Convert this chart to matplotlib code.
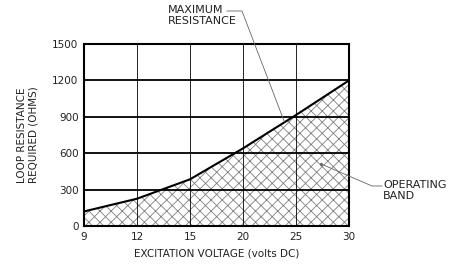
import numpy as np
from matplotlib import pyplot as plt

plt.rcParams['font.family'] = ['DejaVu Sans']
plt.rcParams['hatch.linewidth'] = 0.6
plt.rcParams['hatch.color'] = '#808080'

volts = ['9', '12', '15', '20', '25', '30']
resistance = [120, 225, 385, 640, 915, 1200]
yticks = [0, 300, 600, 900, 1200, 1500]

fig = plt.figure(figsize=(4.52, 2.64), dpi=100)
ax = fig.add_axes([0.186, 0.144, 0.586, 0.689])

x = np.arange(len(volts))
ax.fill_between(x, resistance, 0, facecolor='none', hatch='xxx',
                edgecolor='#808080', linewidth=0)
ax.plot(x, resistance, color='black', lw=1.5, zorder=3)

for yv in yticks[1:-1]:
    ax.axhline(yv, color='black', lw=1.3, zorder=2)
for xv in x[1:-1]:
    ax.axvline(xv, color='black', lw=0.6, zorder=2)

ax.set_xlim(0, len(volts) - 1)
ax.set_ylim(0, 1500)
ax.set_xticks(x)
ax.set_xticklabels(volts)
ax.set_yticks(yticks)
ax.tick_params(length=0, labelsize=7.5, pad=4, labelcolor='#222222')
for s in ax.spines.values():
    s.set_linewidth(1.5)

ax.set_xlabel('EXCITATION VOLTAGE (volts DC)', fontsize=7.5, labelpad=5,
              color='#222222')
ax.set_ylabel('LOOP RESISTANCE\nREQUIRED (OHMS)', fontsize=7.5, labelpad=10,
              color='#222222')

W, H = 452, 264
lead = dict(color='#666666', lw=0.6)

# leader for maximum resistance
fig.text(168 / W, 1 - 5 / H, 'MAXIMUM\nRESISTANCE', fontsize=8, va='top',
         ha='left', color='#222222', linespacing=1.15)
p = ax.transData.transform((3.78, 860))
fig.add_artist(plt.Line2D([227 / W, 242 / W, p[0] / W],
                          [1 - 11 / H, 1 - 11 / H, p[1] / H], **lead))

# leader for operating band
fig.text(383 / W, 1 - 180 / H, 'OPERATING\nBAND', fontsize=8, va='top',
         ha='left', color='#222222', linespacing=1.15)
q = ax.transData.transform((4.47, 512))
fig.add_artist(plt.Line2D([q[0] / W, 372 / W, 382 / W],
                          [q[1] / H, 1 - 186 / H, 1 - 186 / H], **lead))
fig.add_artist(plt.Line2D([q[0] / W], [q[1] / H], marker='o', ms=1.3,
                          color='#666666', lw=0))

fig.savefig('out.png', dpi=100)
